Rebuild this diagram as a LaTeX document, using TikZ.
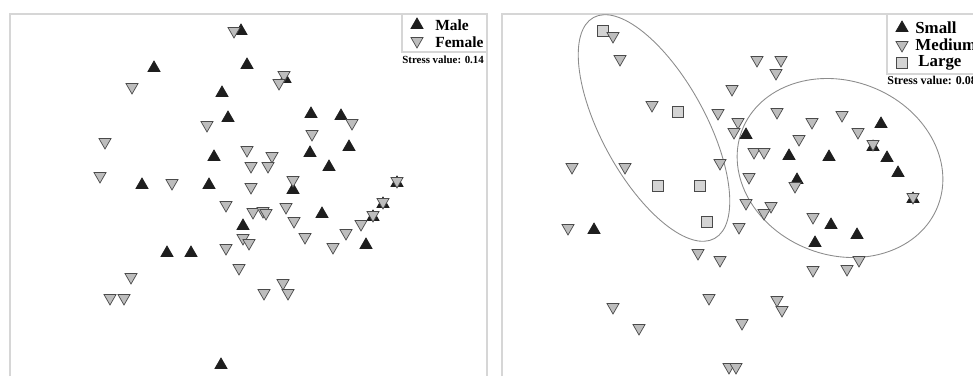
\documentclass[tikz,border=0pt]{standalone}
\usepackage{fontspec}
\setmainfont{Liberation Serif}
\usetikzlibrary{shapes.geometric}
\definecolor{markdark}{HTML}{1E1E1E}
\definecolor{markgray}{HTML}{BDBDBD}
\definecolor{markedge}{HTML}{4A4A4A}
\definecolor{marklight}{HTML}{D4D4D4}
\definecolor{framegray}{HTML}{D6D6D6}
\definecolor{ringgray}{HTML}{8C8C8C}
\tikzset{
  uptri/.style={regular polygon, regular polygon sides=3, minimum size=2.8mm,
    inner sep=0pt, fill=markdark, draw=markdark, line width=0.4pt},
  downtri/.style={uptri, shape border rotate=180, fill=markgray, draw=markedge},
  sqbox/.style={rectangle, minimum size=2.3mm, inner sep=0pt, fill=marklight,
    draw=markedge, line width=0.5pt},
  frame/.style={draw=framegray, line width=0.9pt},
  ring/.style={draw=ringgray, line width=0.5pt},
  legtext/.style={anchor=west, inner sep=0pt},
}
\begin{document}
\begin{tikzpicture}[x=0.02cm, y=-0.02cm]
  \useasboundingbox (0,0) rectangle (973,376);
  \clip (0,0) rectangle (973,376);
  % panel frames
  \draw[frame] (10,376) -- (10,14) -- (487,14) -- (487,376);
  \draw[frame] (402,14) -- (402,52) -- (487,52);
  \draw[frame] (502,376) -- (502,14) -- (980,14);
  \draw[frame] (887,14) -- (887,74) -- (980,74);
  % groups
  \draw[ring, shift={(654,128)}, rotate=-61.3] (0,0) ellipse [x radius=2.52cm, y radius=1.04cm];
  \draw[ring, shift={(840,168)}, rotate=-21] (0,0) ellipse [x radius=2.1cm, y radius=1.74cm];
  % left panel: male
  \draw
    (241,31) node[uptri] (m1){} (154,68) node[uptri] (m2){} (247,65) node[uptri] (m3){}
    (285,79) node[uptri] (m4){} (222,93) node[uptri] (m5){} (228,118) node[uptri] (m6){}
    (311,114) node[uptri] (m7){} (341,116) node[uptri] (m8){} (214,157) node[uptri] (m9){}
    (310,153) node[uptri] (m10){} (349,147) node[uptri] (m11){} (329,167) node[uptri] (m12){}
    (142,185) node[uptri] (m13){} (209,185) node[uptri] (m14){} (293,190) node[uptri] (m15){}
    (397,183) node[uptri] (m16){} (383,204) node[uptri] (m17){} (373,217) node[uptri] (m18){}
    (322,214) node[uptri] (m19){} (243,226) node[uptri] (m20){} (167,253) node[uptri] (m21){}
    (191,253) node[uptri] (m22){} (366,245) node[uptri] (m23){} (221,365) node[uptri] (m24){};
  % left panel: female
  \draw
    (234,31) node[downtri] (f1){} (284,75) node[downtri] (f2){} (279,83) node[downtri] (f3){}
    (132,87) node[downtri] (f4){} (207,125) node[downtri] (f5){} (352,123) node[downtri] (f6){}
    (312,134) node[downtri] (f7){} (105,142) node[downtri] (f8){} (247,150) node[downtri] (f9){}
    (272,156) node[downtri] (f10){} (251,166) node[downtri] (f11){} (268,166) node[downtri] (f12){}
    (100,176) node[downtri] (f13){} (172,183) node[downtri] (f14){} (293,180) node[downtri] (f15){}
    (251,187) node[downtri] (f16){} (397,181) node[downtri] (f17){} (383,202) node[downtri] (f18){}
    (373,215) node[downtri] (f19){} (226,205) node[downtri] (f20){} (286,207) node[downtri] (f21){}
    (253,212) node[downtri] (f22){} (263,211) node[downtri] (f23){} (266,213) node[downtri] (f24){}
    (294,221) node[downtri] (f25){} (361,224) node[downtri] (f26){} (346,233) node[downtri] (f27){}
    (305,237) node[downtri] (f28){} (333,247) node[downtri] (f29){} (243,238) node[downtri] (f30){}
    (249,243) node[downtri] (f31){} (226,248) node[downtri] (f32){} (239,268) node[downtri] (f33){}
    (131,277) node[downtri] (f34){} (110,298) node[downtri] (f35){} (124,298) node[downtri] (f36){}
    (283,283) node[downtri] (f37){} (288,293) node[downtri] (f38){} (264,293) node[downtri] (f39){};
  % right panel: large
  \draw
    (603,31) node[sqbox] (l1){} (678,112) node[sqbox] (l2){} (658,186) node[sqbox] (l3){}
    (700,186) node[sqbox] (l4){} (707,222) node[sqbox] (l5){};
  % right panel: small
  \draw
    (881,124) node[uptri] (s1){} (873,147) node[uptri] (s2){} (746,135) node[uptri] (s3){}
    (789,156) node[uptri] (s4){} (829,157) node[uptri] (s5){} (887,158) node[uptri] (s6){}
    (898,173) node[uptri] (s7){} (797,180) node[uptri] (s8){} (913,199) node[uptri] (s9){}
    (831,225) node[uptri] (s10){} (857,235) node[uptri] (s11){} (815,243) node[uptri] (s12){}
    (594,230) node[uptri] (s13){};
  % right panel: medium
  \draw
    (613,36) node[downtri] (d1){} (620,59) node[downtri] (d2){} (652,105) node[downtri] (d3){}
    (732,89) node[downtri] (d4){} (718,113) node[downtri] (d5){} (738,122) node[downtri] (d6){}
    (734,132) node[downtri] (d7){} (572,167) node[downtri] (d8){} (625,167) node[downtri] (d9){}
    (720,163) node[downtri] (d10){} (757,60) node[downtri] (d11){} (781,60) node[downtri] (d12){}
    (776,73) node[downtri] (d13){} (777,112) node[downtri] (d14){} (812,122) node[downtri] (d15){}
    (842,115) node[downtri] (d16){} (858,132) node[downtri] (d17){} (873,144) node[downtri] (d18){}
    (799,139) node[downtri] (d19){} (754,152) node[downtri] (d20){} (764,152) node[downtri] (d21){}
    (749,177) node[downtri] (d22){} (795,186) node[downtri] (d23){} (746,203) node[downtri] (d24){}
    (771,206) node[downtri] (d25){} (764,213) node[downtri] (d26){} (813,217) node[downtri] (d27){}
    (739,227) node[downtri] (d28){} (913,197) node[downtri] (d29){} (859,260) node[downtri] (d30){}
    (813,270) node[downtri] (d31){} (847,269) node[downtri] (d32){} (777,300) node[downtri] (d33){}
    (782,310) node[downtri] (d34){} (742,323) node[downtri] (d35){} (729,367) node[downtri] (d36){}
    (736,367) node[downtri] (d37){} (568,228) node[downtri] (d38){} (698,253) node[downtri] (d39){}
    (720,260) node[downtri] (d40){} (709,298) node[downtri] (d41){} (613,307) node[downtri] (d42){}
    (639,328) node[downtri] (d43){};
  % legends
  \node[uptri] (keyM) at (417,25) {};
  \node[downtri] (keyF) at (417,41) {};
  \node[legtext, font=\bfseries\fontsize{8.8}{10}\selectfont] (txtM) at (435,25) {Male};
  \node[legtext, font=\bfseries\fontsize{8.8}{10}\selectfont] (txtF) at (435,42) {Female};
  \node[legtext, font=\bfseries\fontsize{6.2}{7}\selectfont] (stressL) at (402,60) {Stress value: 0.14};
  \node[uptri] (keyS) at (902,28) {};
  \node[downtri] (keyD) at (902,45) {};
  \node[sqbox] (keyL) at (902,63) {};
  \node[legtext, font=\bfseries\fontsize{9.6}{11}\selectfont] (txtS) at (915,28) {Small};
  \node[legtext, font=\bfseries\fontsize{9.6}{11}\selectfont] (txtD) at (915,45) {Medium};
  \node[legtext, font=\bfseries\fontsize{9.6}{11}\selectfont] (txtL) at (918,63) {Large};
  \node[legtext, font=\bfseries\fontsize{6.8}{8}\selectfont] (stressR) at (887,80) {Stress value: 0.08};
\end{tikzpicture}
\end{document}
